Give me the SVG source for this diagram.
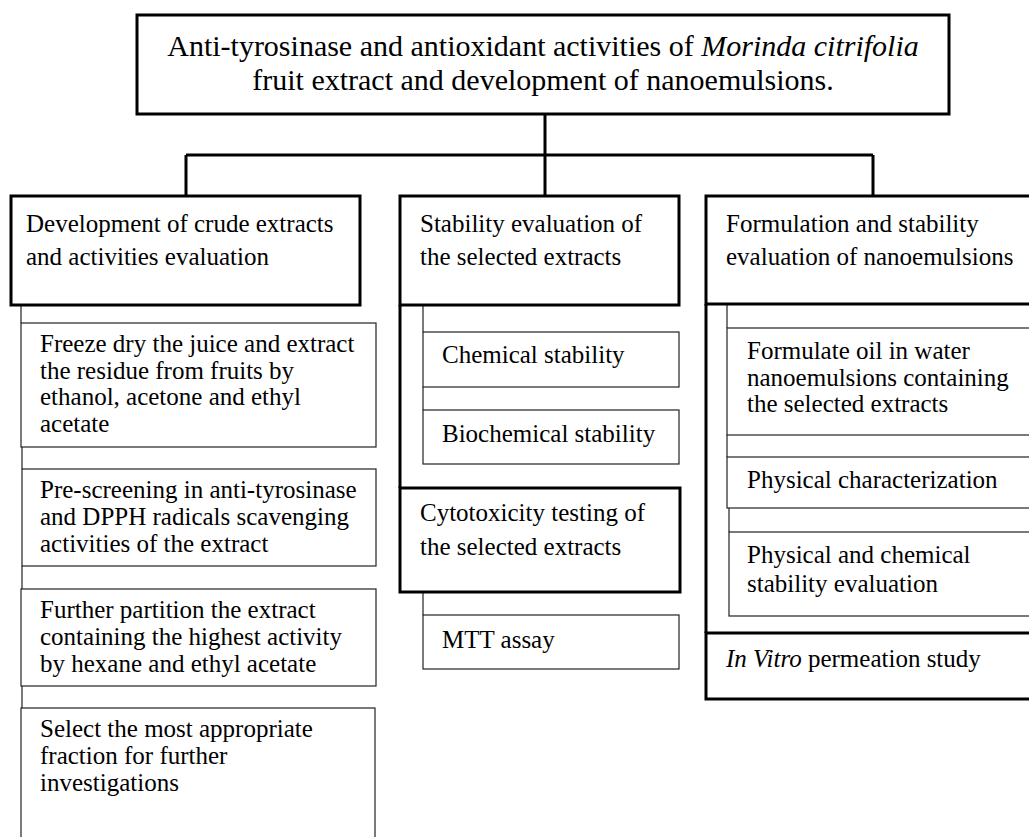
<svg xmlns="http://www.w3.org/2000/svg" width="1029" height="837" viewBox="0 0 1029 837">
<style>
.thick{fill:#fff;stroke:#000;stroke-width:3}
.thin{fill:#fff;stroke:#222;stroke-width:1.2}
.conn{fill:none;stroke:#000;stroke-width:3}
.cthin{fill:none;stroke:#222;stroke-width:1.2}
.t{font-family:"Liberation Serif","Times New Roman",serif;font-size:25px;fill:#000}
.title{font-size:30px}
</style>
<rect width="1029" height="837" fill="#fff"/>
<g id="connectors">
<path class="conn" d="M545 114V195M186 155H873M186 155V195M873 155V195M400 305V488M706 304V633"/>
<path class="cthin" d="M21 305V323M22 447V469M22 566V589M22 686V708M423 305V332M423 387V410M423 592V615M727 304V328M727 435V457M729 508V532"/>
</g>
<g id="title">
<rect class="thick" x="137" y="15" width="812" height="99"/>
<text class="t title" x="543" y="56" text-anchor="middle">Anti-tyrosinase and antioxidant activities of <tspan font-style="italic">Morinda citrifolia</tspan></text>
<text class="t title" x="543" y="90" text-anchor="middle">fruit extract and development of nanoemulsions.</text>
</g>
<g id="col1-header">
<rect class="thick" x="11" y="196" width="349" height="109"/>
<text class="t" x="26" y="232">Development of crude extracts</text>
<text class="t" x="26" y="265">and activities evaluation</text>
</g>
<g id="col1-step1">
<rect class="thin" x="21" y="323" width="355" height="124"/>
<text class="t" x="40" y="352">Freeze dry the juice and extract</text>
<text class="t" x="40" y="379">the residue from fruits by</text>
<text class="t" x="40" y="405">ethanol, acetone and ethyl</text>
<text class="t" x="40" y="432">acetate</text>
</g>
<g id="col1-step2">
<rect class="thin" x="22" y="469" width="354" height="97"/>
<text class="t" x="40" y="498">Pre-screening in anti-tyrosinase</text>
<text class="t" x="40" y="525">and DPPH radicals scavenging</text>
<text class="t" x="40" y="552">activities of the extract</text>
</g>
<g id="col1-step3">
<rect class="thin" x="21" y="589" width="355" height="97"/>
<text class="t" x="40" y="618">Further partition the extract</text>
<text class="t" x="40" y="645">containing the highest activity</text>
<text class="t" x="40" y="672">by hexane and ethyl acetate</text>
</g>
<g id="col1-step4">
<rect class="thin" x="21" y="708" width="354" height="140"/>
<text class="t" x="40" y="737">Select the most appropriate</text>
<text class="t" x="40" y="764">fraction for further</text>
<text class="t" x="40" y="791">investigations</text>
</g>
<g id="col2-header">
<rect class="thick" x="400" y="196" width="279" height="109"/>
<text class="t" x="420" y="232">Stability evaluation of</text>
<text class="t" x="420" y="265">the selected extracts</text>
</g>
<g id="col2-chem">
<rect class="thin" x="423" y="332" width="256" height="55"/>
<text class="t" x="442" y="363">Chemical stability</text>
</g>
<g id="col2-biochem">
<rect class="thin" x="423" y="410" width="256" height="54"/>
<text class="t" x="442" y="442">Biochemical stability</text>
</g>
<g id="col2-cyto">
<rect class="thick" x="400" y="488" width="280" height="104"/>
<text class="t" x="420" y="521">Cytotoxicity testing of</text>
<text class="t" x="420" y="555">the selected extracts</text>
</g>
<g id="col2-mtt">
<rect class="thin" x="423" y="615" width="256" height="54"/>
<text class="t" x="442" y="648">MTT assay</text>
</g>
<g id="col3-header">
<rect class="thick" x="706" y="196" width="340" height="108"/>
<text class="t" x="726" y="232">Formulation and stability</text>
<text class="t" x="726" y="265">evaluation of nanoemulsions</text>
</g>
<g id="col3-formulate">
<rect class="thin" x="727" y="328" width="320" height="107"/>
<text class="t" x="747" y="359">Formulate oil in water</text>
<text class="t" x="747" y="386">nanoemulsions containing</text>
<text class="t" x="747" y="412">the selected extracts</text>
</g>
<g id="col3-physchar">
<rect class="thin" x="727" y="457" width="320" height="51"/>
<text class="t" x="747" y="488">Physical characterization</text>
</g>
<g id="col3-stability">
<rect class="thin" x="729" y="532" width="320" height="84"/>
<text class="t" x="747" y="563">Physical and chemical</text>
<text class="t" x="747" y="592">stability evaluation</text>
</g>
<g id="col3-invitro">
<rect class="thick" x="706" y="633" width="340" height="66"/>
<text class="t" x="726" y="667"><tspan font-style="italic">In Vitro</tspan> permeation study</text>
</g>
</svg>
